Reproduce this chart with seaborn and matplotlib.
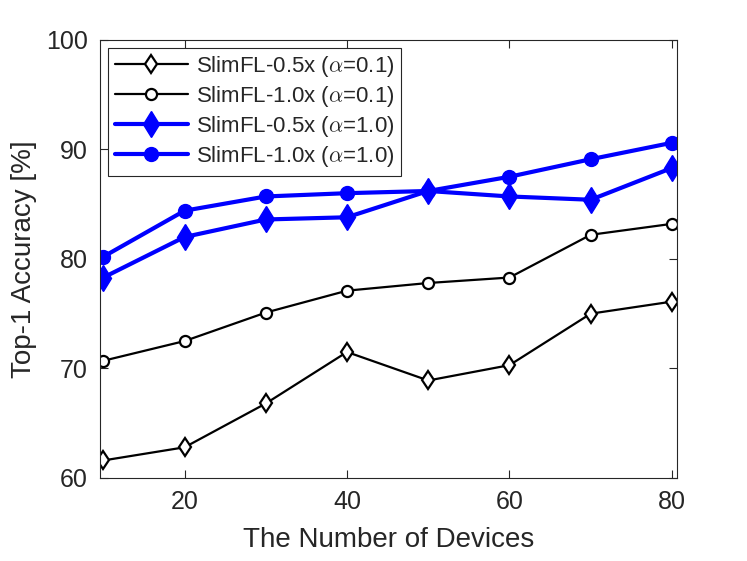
import matplotlib
matplotlib.use("Agg")
import matplotlib.pyplot as plt
import seaborn as sns

devices = [10, 20, 30, 40, 50, 60, 70, 80]
acc_05x_a01 = [61.6, 62.8, 66.8, 71.5, 68.9, 70.3, 75.0, 76.1]
acc_10x_a01 = [70.7, 72.5, 75.1, 77.1, 77.8, 78.3, 82.2, 83.2]
acc_05x_a10 = [78.3, 82.0, 83.6, 83.8, 86.2, 85.7, 85.4, 88.3]
acc_10x_a10 = [80.2, 84.4, 85.7, 86.0, 86.2, 87.5, 89.1, 90.6]

sns.set_style("ticks")
plt.rcParams['font.family'] = ['Liberation Sans', 'DejaVu Sans']
plt.rcParams['mathtext.fontset'] = 'cm'

fig = plt.figure(figsize=(7.47, 5.61), dpi=100)
ax = fig.add_axes([0.134, 0.148, 0.772, 0.781])

sns.lineplot(x=devices, y=acc_05x_a01, ax=ax, color='black', lw=1.6,
             marker='d', markersize=9.5, markerfacecolor='white',
             markeredgecolor='black', markeredgewidth=1.6,
             label=r'SlimFL-0.5x ($\alpha$=0.1)')
sns.lineplot(x=devices, y=acc_10x_a01, ax=ax, color='black', lw=1.6,
             marker='o', markersize=8, markerfacecolor='white',
             markeredgecolor='black', markeredgewidth=1.6,
             label=r'SlimFL-1.0x ($\alpha$=0.1)')
sns.lineplot(x=devices, y=acc_05x_a10, ax=ax, color='blue', lw=3,
             marker='d', markersize=13, markerfacecolor='blue',
             markeredgecolor='blue', markeredgewidth=1,
             label=r'SlimFL-0.5x ($\alpha$=1.0)')
sns.lineplot(x=devices, y=acc_10x_a10, ax=ax, color='blue', lw=3,
             marker='o', markersize=10, markerfacecolor='blue',
             markeredgecolor='blue', markeredgewidth=1,
             label=r'SlimFL-1.0x ($\alpha$=1.0)')

ax.set_xlim(9.6, 80.6)
ax.set_ylim(60, 100)
ax.set_xticks([20, 40, 60, 80])
ax.set_yticks([60, 70, 80, 90, 100])
ax.tick_params(direction='in', top=True, right=True, length=6,
               width=0.8, colors='#262626', labelsize=18, pad=9)
for s in ax.spines.values():
    s.set_color('#262626')
    s.set_linewidth(0.8)
ax.set_xlabel('The Number of Devices', fontsize=20, color='#262626',
              labelpad=9)
ax.set_ylabel('Top-1 Accuracy [%]', fontsize=20, color='#262626',
              labelpad=6)

leg = ax.legend(loc='upper left', fontsize=16, fancybox=False,
                framealpha=1, edgecolor='#262626', handlelength=3.3,
                handletextpad=0.35, borderaxespad=0.35, labelspacing=0.22,
                borderpad=0.3)
leg.get_frame().set_linewidth(0.8)

fig.savefig('out.png', dpi=100)
